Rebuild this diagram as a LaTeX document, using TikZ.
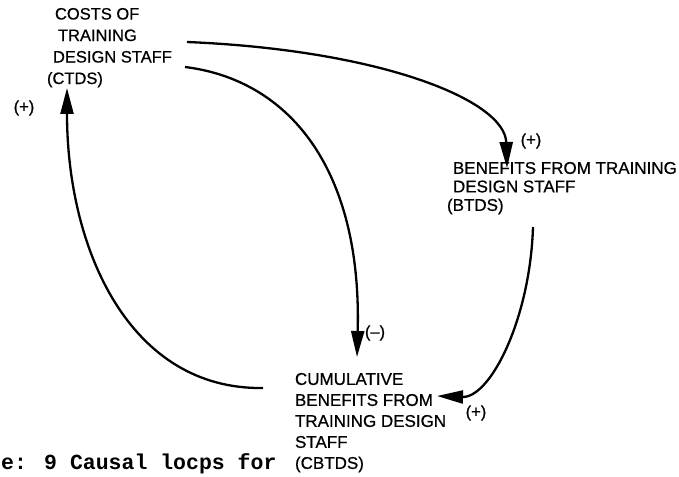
\documentclass[tikz,border=0pt]{standalone}
\usepackage{fontspec}
\setmainfont{Liberation Sans}[FakeBold=0.6]
\newfontfamily\varfont{Liberation Sans}[FakeBold=0.6]
\newfontfamily\capfont{Liberation Mono}
\usetikzlibrary{arrows.meta}
\tikzset{
  var/.style={inner sep=0pt, outer sep=0pt, anchor=north west, align=left, font=\varfont\fontsize{17bp}{21bp}\selectfont},
  sign/.style={inner sep=0pt, font=\varfont\fontsize{16.5bp}{18bp}\selectfont},
  link/.style={line width=2.3bp, -{Triangle[length=26bp,width=13bp]}},
}
\begin{document}
\begin{tikzpicture}[x=1bp,y=-1bp]
\useasboundingbox[fill=white] (0,0) rectangle (679,477);
% variables
\node[var, font=\varfont\fontsize{16.5bp}{21.5bp}\selectfont] (ctds) at (47,8)
  {\hspace*{8bp}COSTS OF\\\hspace*{11bp}TRAINING\\\hspace*{6bp}DESIGN STAFF\\(CTDS)};
\node[var, font=\varfont\fontsize{17bp}{18.5bp}\selectfont] (btds) at (453,162)
  {BENEFITS FROM TRAINING\\DESIGN STAFF\\\hspace*{-6bp}(BTDS)};
\node[var] (cbtds) at (295,373)
  {CUMULATIVE\\BENEFITS FROM\\TRAINING DESIGN\\STAFF\\(CBTDS)};
% signs
\node[sign] (s1) at (24,108) {(+)};
\node[sign] (s2) at (531,141) {(+)};
\node[sign] (s3) at (476,413) {(+)};
\node[sign] (s4) at (375,333) {(–)};
% caption
\node[inner sep=0pt, anchor=base west, font=\capfont\bfseries\fontsize{21.5bp}{24bp}\selectfont] (cap) at (1,469) {e: 9 Causal locps for};
% connectors
\draw[link] ([shift={(140,34)}]ctds.north west) .. controls (380,50) and (505,100) .. ([shift={(54,6)}]btds.north west);
\draw[link] ([shift={(138,59)}]ctds.north west) .. controls (290,80) and (362,170) .. ([shift={(62,-16)}]cbtds.north west);
\draw[link] ([shift={(80,65)}]btds.north west) .. controls (530,320) and (490,398) .. ([shift={(142,23)}]cbtds.north west);
\draw[link] ([shift={(-32,15)}]cbtds.north west) .. controls (130,390) and (67,250) .. ([shift={(20,80)}]ctds.north west);
\end{tikzpicture}
\end{document}
